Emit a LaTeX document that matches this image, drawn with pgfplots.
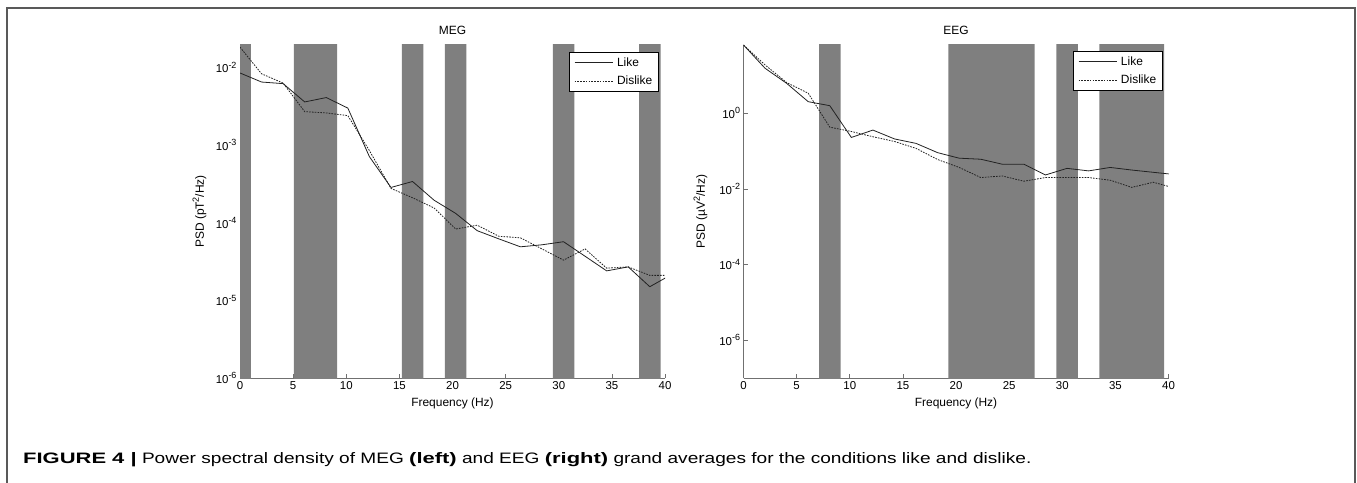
\documentclass[border=0pt]{standalone}
\usepackage{pgfplots}
\usepackage{pgfplotstable}
\usepackage{graphicx}
\pgfplotsset{compat=1.18}
\usepackage{fontspec}
\setmainfont{Liberation Sans}

\newcommand{\sups}[1]{\raisebox{0.42em}{\fontsize{9}{9}\selectfont #1}}

\definecolor{barfill}{HTML}{7F7F7F}
\definecolor{axgray}{HTML}{707070}
\definecolor{linec}{HTML}{222222}

\pgfplotstableread{
f     likeM    dislikeM  likeE   dislikeE
0     0.0085   0.0183    64      64
2.03  0.0065   0.0083    15.5    19
4.06  0.0062   0.0063    6.2     6.5
6.09  0.0036   0.0027    2.03    3.4
8.12  0.0041   0.0026    1.59    0.43
10.15 0.0030   0.0024    0.23    0.33
12.18 0.00071  0.00085   0.36    0.24
14.21 0.000285 0.000277  0.21    0.18
16.24 0.00034  0.00021   0.16    0.118
18.27 0.000195 0.000155  0.091   0.060
20.3  0.000132 0.000083  0.065   0.037
22.33 0.000079 0.000093  0.061   0.020
24.36 0.000062 0.000067  0.045   0.022
26.39 0.000049 0.000064  0.045   0.016
28.42 0.000052 0.000046  0.0234  0.020
30.45 0.000057 0.000033  0.035   0.020
32.48 0.000037 0.000046  0.030   0.020
34.51 0.000024 0.000026  0.037   0.017
36.54 0.000027 0.000027  0.0316  0.011
38.57 0.000015 0.000021  0.0275  0.015
40.6  0.0000215 0.000021 0.024   0.0105
}\psdtab

\begin{document}
\begin{tikzpicture}
\path[use as bounding box] (0,0) rectangle (1357bp,483bp);
\draw[line width=1.8bp, black!65] (7bp,0bp) -- (7bp,474.7bp) -- (1355.3bp,474.7bp) -- (1355.3bp,0bp);

\begin{axis}[
  width=425bp, height=333bp, scale only axis,
  at={(240bp,105bp)}, anchor=south west,
  xmin=0, xmax=40, ymode=log,
  ymin=1e-6, ymax=0.0195,
  axis x line*=bottom, axis y line*=left,
  axis line style={axgray, line width=0.7bp},
  tick style={axgray, line width=0.7bp},
  tick align=inside, major tick length=4bp,
  yminorticks=false,
  xtick={0,5,...,40},
  ytick={1e-6,1e-5,1e-4,1e-3,1e-2},
  yticklabels={10\sups{-6},10\sups{-5},10\sups{-4},10\sups{-3},10\sups{-2}},
  font=\fontsize{12}{14}\selectfont,
  ticklabel style={font=\fontsize{11.5}{13}\selectfont},
  /pgf/number format/assume math mode=true,
  title={MEG},
  title style={yshift=1bp},
  xlabel={Frequency (Hz)},
  xlabel style={at={(axis description cs:0.5,0)}, anchor=north, yshift=-16bp},
  ylabel={PSD (pT\sups{2}/Hz)},
  ylabel style={at={(axis description cs:-0.0706,0.5)}, anchor=south},
  legend image code/.code={\draw[#1] (0bp,0bp) -- (38bp,0bp);},
  legend cell align=left,
  legend style={at={(0.9859,0.979)}, anchor=north east, draw=black, line width=0.6bp, fill=white,
    font=\fontsize{12}{14}\selectfont, inner xsep=4.5bp, inner ysep=3.5bp, row sep=4bp, column sep=2bp},
]
\addplot[fill=barfill, draw=none, forget plot] coordinates {(-1.015,9e-7) (-1.015,0.022) (1.015,0.022) (1.015,9e-7) (-1.015,9e-7)};
\addplot[fill=barfill, draw=none, forget plot] coordinates {(5.075,9e-7) (5.075,0.022) (9.135,0.022) (9.135,9e-7) (5.075,9e-7)};
\addplot[fill=barfill, draw=none, forget plot] coordinates {(15.225,9e-7) (15.225,0.022) (17.255,0.022) (17.255,9e-7) (15.225,9e-7)};
\addplot[fill=barfill, draw=none, forget plot] coordinates {(19.285,9e-7) (19.285,0.022) (21.315,0.022) (21.315,9e-7) (19.285,9e-7)};
\addplot[fill=barfill, draw=none, forget plot] coordinates {(29.435,9e-7) (29.435,0.022) (31.465,0.022) (31.465,9e-7) (29.435,9e-7)};
\addplot[fill=barfill, draw=none, forget plot] coordinates {(37.555,9e-7) (37.555,0.022) (39.585,0.022) (39.585,9e-7) (37.555,9e-7)};
\addplot[linec, line width=0.8bp, solid] table[x=f, y=likeM] {\psdtab};
\addlegendentry{Like}
\addplot[linec, line width=0.8bp, dash pattern=on 1.6bp off 1.2bp] table[x=f, y=dislikeM] {\psdtab};
\addlegendentry{Dislike}
\end{axis}

\begin{axis}[
  width=425bp, height=333bp, scale only axis,
  at={(743.5bp,105bp)}, anchor=south west,
  xmin=0, xmax=40, ymode=log,
  ymin=1e-7, ymax=64,
  axis x line*=bottom, axis y line*=left,
  axis line style={axgray, line width=0.7bp},
  tick style={axgray, line width=0.7bp},
  tick align=inside, major tick length=4bp,
  yminorticks=false,
  xtick={0,5,...,40},
  ytick={1e-6,1e-4,1e-2,1},
  yticklabels={10\sups{-6},10\sups{-4},10\sups{-2},10\sups{0}},
  font=\fontsize{12}{14}\selectfont,
  ticklabel style={font=\fontsize{11.5}{13}\selectfont},
  /pgf/number format/assume math mode=true,
  title={EEG},
  title style={yshift=1bp},
  xlabel={Frequency (Hz)},
  xlabel style={at={(axis description cs:0.5,0)}, anchor=north, yshift=-16bp},
  ylabel={PSD (µV\sups{2}/Hz)},
  ylabel style={at={(axis description cs:-0.0765,0.5)}, anchor=south},
  legend image code/.code={\draw[#1] (0bp,0bp) -- (38bp,0bp);},
  legend cell align=left,
  legend style={at={(0.987,0.982)}, anchor=north east, draw=black, line width=0.6bp, fill=white,
    font=\fontsize{12}{14}\selectfont, inner xsep=4.5bp, inner ysep=3.5bp, row sep=4bp, column sep=2bp},
]
\addplot[fill=barfill, draw=none, forget plot] coordinates {(7.105,9e-8) (7.105,70) (9.135,70) (9.135,9e-8) (7.105,9e-8)};
\addplot[fill=barfill, draw=none, forget plot] coordinates {(19.285,9e-8) (19.285,70) (27.405,70) (27.405,9e-8) (19.285,9e-8)};
\addplot[fill=barfill, draw=none, forget plot] coordinates {(29.435,9e-8) (29.435,70) (31.465,70) (31.465,9e-8) (29.435,9e-8)};
\addplot[fill=barfill, draw=none, forget plot] coordinates {(33.495,9e-8) (33.495,70) (39.585,70) (39.585,9e-8) (33.495,9e-8)};
\addplot[linec, line width=0.8bp, solid] table[x=f, y=likeE] {\psdtab};
\addlegendentry{Like}
\addplot[linec, line width=0.8bp, dash pattern=on 1.6bp off 1.2bp] table[x=f, y=dislikeE] {\psdtab};
\addlegendentry{Dislike}
\end{axis}

\node[anchor=base west, inner sep=0pt, font=\fontsize{15.2}{17}\selectfont] at (23bp,20bp)
  {\scalebox{1.45}[1]{\textbf{FIGURE 4 |}}\scalebox{1.26}[1]{ Power spectral density of MEG }\scalebox{1.45}[1]{\textbf{(left)}}\scalebox{1.26}[1]{ and EEG }\scalebox{1.45}[1]{\textbf{(right)}}\scalebox{1.26}[1]{ grand averages for the conditions like and dislike.}};
\end{tikzpicture}
\end{document}
